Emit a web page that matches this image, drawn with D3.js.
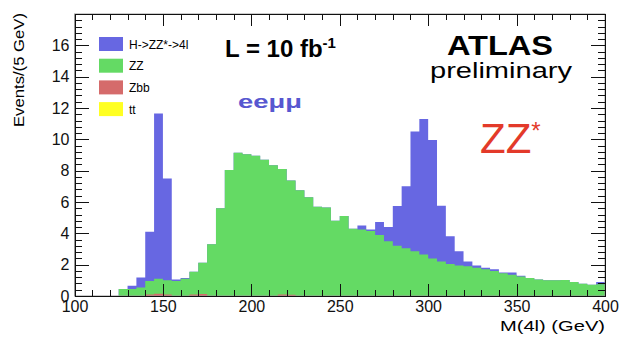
<!DOCTYPE html>
<html>
<head>
<meta charset="utf-8">
<script src="https://cdn.jsdelivr.net/npm/d3@7"></script>
<style>
  body { margin: 0; background: #fff; }
  svg { display: block; font-family: "Liberation Sans", Arial, sans-serif; }
  .axis path, .axis line { stroke: #111; shape-rendering: crispEdges; }
  .axis text { font-size: 16px; fill: #111; }
</style>
</head>
<body>
<div id="chart"></div>
<script>
// M(4l) bins, 5 GeV wide, low edges 100 .. 395
var binLow = d3.range(100, 400, 5);

// events per bin
var zzEvents = [
  0, 0, 0, 0, 0, 0.45, 0.45, 0.55, 0.85, 0.95,
  0.9, 0.95, 1.1, 1.45, 2.0, 3.3, 5.6, 8.05, 9.15, 9.05,
  8.95, 8.7, 8.35, 8.0, 7.3, 6.75, 6.3, 5.7, 5.65, 4.8,
  5.1, 4.3, 4.25, 4.15, 3.9, 3.5, 3.2, 3.05, 2.85, 2.65,
  2.4, 2.2, 2.05, 1.95, 1.9, 1.8, 1.7, 1.6, 1.45, 1.35,
  1.25, 1.15, 1.05, 1.0, 1.0, 1.02, 0.9, 0.78, 0.72, 0.75
];
var higgsEvents = [
  0, 0, 0, 0, 0, 0, 0.21, 0.63, 3.15, 10.55,
  6.5, 0.1, 0.05, 0, 0, 0, 0, 0, 0, 0,
  0, 0, 0, 0, 0, 0, 0, 0, 0, 0,
  0, 0, 0.25, 0.1, 0.83, 0.9, 2.55, 3.95, 7.65, 8.65,
  7.55, 3.56, 1.77, 0.9, 0.3, 0.15, 0.1, 0.1, 0.05, 0.15,
  0.05, 0, 0, 0, 0, 0, 0, 0, 0, 0.15
];
var zbbEvents = [
  0, 0, 0, 0, 0, 0, 0, 0, 0.1, 0.15,
  0.1, 0, 0, 0.1, 0.12, 0, 0, 0, 0, 0,
  0, 0, 0, 0.1, 0.08, 0, 0, 0, 0, 0,
  0, 0, 0, 0, 0, 0, 0, 0, 0, 0,
  0, 0, 0, 0, 0, 0, 0, 0, 0, 0,
  0, 0, 0, 0, 0, 0, 0, 0, 0, 0
];
var ttEvents = binLow.map(function () { return 0; });

var legendNames = ["H->ZZ*->4l", "ZZ", "Zbb", "tt"];
var legendColors = ["#6767e2", "#64da64", "#d56b6b", "#ffff22"];
var yTicks = [0, 2, 4, 6, 8, 10, 12, 14, 16];
var xTicks = [100, 150, 200, 250, 300, 350, 400];

var W = 624, H = 339;
var plotL = 74.5, plotR = 605, plotT = 14, plotB = 296;   // frame of the histogram

var svg = d3.select("#chart").append("svg")
    .attr("width", W)
    .attr("height", H);

var x = d3.scaleLinear().domain([100, 400]).range([plotL, plotR]);
var y = d3.scaleLinear().domain([0, 18]).range([plotB, plotT]);

// stacked histogram, bottom to top: tt, Zbb, ZZ, H
var rows = binLow.map(function (m, i) {
    return { m: m, tt: ttEvents[i], zbb: zbbEvents[i], zz: zzEvents[i], h: higgsEvents[i] };
});
var keys = ["tt", "zbb", "zz", "h"];
var colorOf = { tt: legendColors[3], zbb: legendColors[2], zz: legendColors[1], h: legendColors[0] };
var series = d3.stack().keys(keys)(rows);

var edges = binLow.concat([400]);
var area = d3.area()
    .curve(d3.curveStepAfter)
    .x(function (d, i) { return x(edges[i]); })
    .y0(y(0))
    .y1(function (d) { return y(d[1]); });

// draw top layer first, each from zero, so no seams between layers
svg.append("g").selectAll("path")
    .data(series.slice().reverse())
    .enter().append("path")
    .attr("fill", function (s) { return colorOf[s.key]; })
    .attr("d", function (s) { return area(s.concat([s[s.length - 1]])); });

// frame
svg.append("rect")
    .attr("x", plotL).attr("y", plotT)
    .attr("width", plotR - plotL).attr("height", plotB - plotT)
    .attr("fill", "none").attr("stroke", "#999").attr("stroke-width", 1);

// axes, ticks inside like ROOT
function minorY() { return d3.range(0, 18.01, 0.4); }
function minorX() { return d3.range(100, 401, 10); }
function grey(g) { g.selectAll("line, path").attr("stroke", "#666"); }

svg.append("g").attr("class", "axis")
    .attr("transform", "translate(" + plotL + ",0)")
    .call(d3.axisLeft(y).tickValues(minorY()).tickSize(-7).tickSizeOuter(0).tickFormat(""));
svg.append("g").attr("class", "axis")
    .attr("transform", "translate(" + plotL + ",0)")
    .call(d3.axisLeft(y).tickValues(yTicks).tickSize(-14).tickSizeOuter(0).tickPadding(5).tickFormat(d3.format("d")));

svg.append("g").attr("class", "axis")
    .attr("transform", "translate(" + plotR + ",0)")
    .call(d3.axisRight(y).tickValues(minorY()).tickSize(-7).tickSizeOuter(0).tickFormat(""))
    .call(grey);
svg.append("g").attr("class", "axis")
    .attr("transform", "translate(" + plotR + ",0)")
    .call(d3.axisRight(y).tickValues(yTicks).tickSize(-14).tickSizeOuter(0).tickFormat(""))
    .call(grey);

svg.append("g").attr("class", "axis")
    .attr("transform", "translate(0," + plotB + ")")
    .call(d3.axisBottom(x).tickValues(minorX()).tickSize(-6).tickSizeOuter(0).tickFormat(""));
svg.append("g").attr("class", "axis")
    .attr("transform", "translate(0," + plotB + ")")
    .call(d3.axisBottom(x).tickValues(xTicks).tickSize(-12).tickSizeOuter(0).tickPadding(5).tickFormat(d3.format("d")));

svg.append("g").attr("class", "axis")
    .attr("transform", "translate(0," + plotT + ")")
    .call(d3.axisTop(x).tickValues(minorX()).tickSize(-6).tickSizeOuter(0).tickFormat(""))
    .call(grey);
svg.append("g").attr("class", "axis")
    .attr("transform", "translate(0," + plotT + ")")
    .call(d3.axisTop(x).tickValues(xTicks).tickSize(-12).tickSizeOuter(0).tickFormat(""))
    .call(grey);

// axis titles
svg.append("text")
    .attr("transform", "translate(24,13) rotate(-90)")
    .attr("text-anchor", "end")
    .attr("font-size", 15)
    .attr("textLength", 114).attr("lengthAdjust", "spacingAndGlyphs")
    .text("Events/(5 GeV)");

svg.append("text")
    .attr("x", 605).attr("y", 331)
    .attr("text-anchor", "end")
    .attr("font-size", 15)
    .attr("textLength", 105).attr("lengthAdjust", "spacingAndGlyphs")
    .text("M(4l) (GeV)");

// legend
var leg = svg.append("g").selectAll("g")
    .data(legendNames)
    .enter().append("g")
    .attr("transform", function (d, i) { return "translate(99," + (37 + i * 21.7) + ")"; });
leg.append("rect")
    .attr("width", 24).attr("height", 14)
    .attr("fill", function (d, i) { return legendColors[i]; });
leg.append("text")
    .attr("x", 30).attr("y", 11.5)
    .attr("font-size", 12)
    .text(function (d) { return d; });

// labels
var lum = svg.append("text")
    .attr("x", 225).attr("y", 57)
    .attr("font-size", 24).attr("font-weight", "bold");
lum.append("tspan").text("L = 10 fb");
lum.append("tspan").attr("dy", -9).attr("font-size", 15).text("-1");

svg.append("text")
    .attr("x", 447).attr("y", 55)
    .attr("font-size", 28).attr("font-weight", "bold")
    .attr("textLength", 106).attr("lengthAdjust", "spacingAndGlyphs")
    .text("ATLAS");

svg.append("text")
    .attr("x", 430).attr("y", 78)
    .attr("font-size", 22)
    .attr("textLength", 142).attr("lengthAdjust", "spacingAndGlyphs")
    .text("preliminary");

svg.append("text")
    .attr("x", 238).attr("y", 108)
    .attr("font-size", 19).attr("font-weight", "bold")
    .attr("fill", "#5757d0")
    .attr("textLength", 64).attr("lengthAdjust", "spacingAndGlyphs")
    .text("eeμμ");

var zz = svg.append("text")
    .attr("x", 480).attr("y", 153)
    .attr("font-size", 42)
    .attr("fill", "#e33a2a");
zz.append("tspan").text("ZZ");
zz.append("tspan").attr("dy", -14).attr("font-size", 24).text("*");
</script>
</body>
</html>
